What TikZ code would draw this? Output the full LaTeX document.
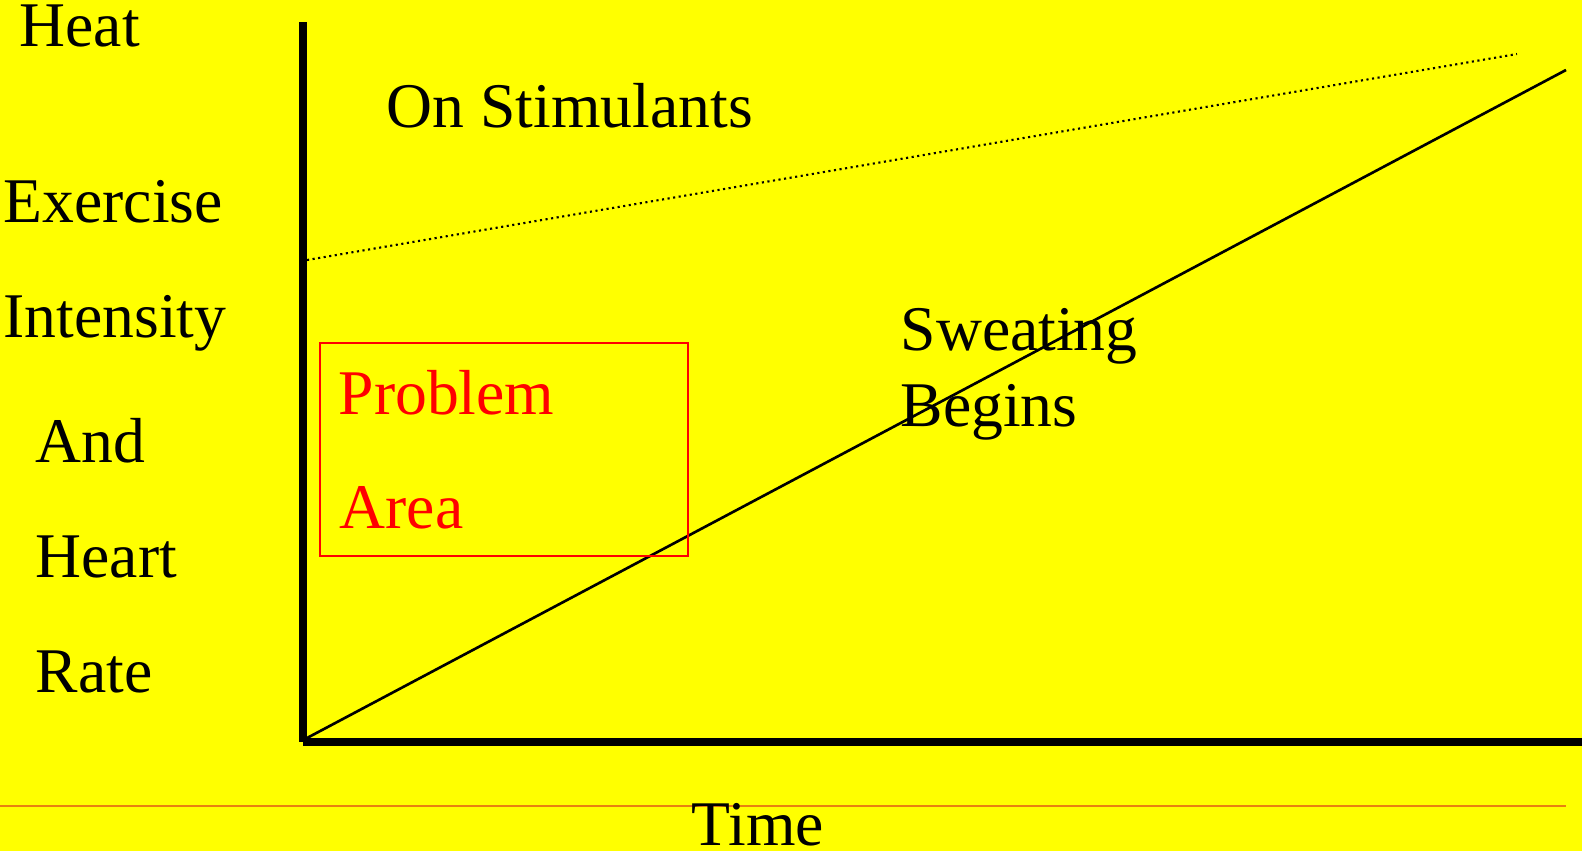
\documentclass[tikz,border=0pt]{standalone}
\usepackage{fontspec}
\setmainfont{Liberation Serif}
\usetikzlibrary{positioning}
\definecolor{bgyellow}{RGB}{255,255,0}
\definecolor{ruleorange}{RGB}{232,128,16}

\begin{document}
\begin{tikzpicture}[x=0.01cm,y=-0.01cm,
 lbl/.style={anchor=base west,inner sep=0pt,font=\fontsize{18.1}{21}\selectfont},
 hot/.style={lbl,text=red},
 axis/.style={line width=2.3pt},
 trend/.style={line width=0.75pt},
 stim/.style={line width=0.6pt,dash pattern=on 0.6pt off 1pt}]
 \fill[bgyellow](0,0) rectangle (1582,851);
 \useasboundingbox (0,0) rectangle (1582,851);
 % axes
 \coordinate (ytop) at (303,22);
 \coordinate (orig) at (303,742);
 \coordinate (xend) at (1582,742);
 \draw[axis](ytop)--(orig);
 \draw[axis](orig)--(xend);
 % y axis label
 \node[lbl](heat) at (19,46){Heat};
 \node[lbl](ex) at (3,222){Exercise};
 \node[lbl](int) at (3,337){Intensity};
 \node[lbl](and) at (35,462){And};
 \node[lbl](heart) at (35,577){Heart};
 \node[lbl](rate) at (35,692){Rate};
 % curves
 \coordinate (sw0) at (307,738);
 \coordinate (sw1) at (1566,70);
 \coordinate (st0) at (307,260);
 \coordinate (st1) at (1517,54);
 \draw[trend](sw0)--(sw1);
 \draw[stim](st0)--(st1);
 \node[lbl](stimtxt) at (386,127){On Stimulants};
 \node[lbl](sweat) at (900,350){Sweating};
 \node[lbl](begins) at (900,426){Begins};
 % problem area
 \node[draw=red,line width=0.6pt,anchor=north west,inner sep=0pt,minimum width=3.68cm,minimum height=2.13cm](box) at (319,342){};
 \node[hot](prob) at (338,414){Problem};
 \node[hot](area) at (339,528){Area};
 % bottom rule and x label
 \coordinate (r0) at (0,806);
 \coordinate (r1) at (1566,806);
 \draw[ruleorange,line width=0.4pt](r0)--(r1);
 \node[lbl](time) at (691,845){Time};
\end{tikzpicture}
\end{document}
